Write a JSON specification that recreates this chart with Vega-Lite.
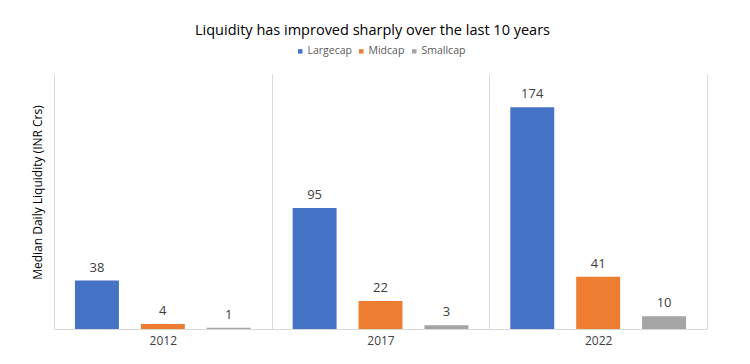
{
  "$schema": "https://vega.github.io/schema/vega-lite/v6.json",
  "width": 653,
  "height": 255,
  "autosize": {"type": "none"},
  "padding": {"left": 54, "top": 74, "right": 43, "bottom": 35},
  "background": "white",
  "title": {
    "text": "Liquidity has improved sharply over the last 10 years",
    "font": "Open Sans",
    "fontSize": 14.5,
    "fontWeight": "normal",
    "color": "#000000",
    "anchor": "middle",
    "dx": -8,
    "offset": 8
  },
  "data": {
    "values": [
      {"year": "2012", "cap": "Largecap", "value": 38},
      {"year": "2012", "cap": "Midcap", "value": 4},
      {"year": "2012", "cap": "Smallcap", "value": 1},
      {"year": "2017", "cap": "Largecap", "value": 95},
      {"year": "2017", "cap": "Midcap", "value": 22},
      {"year": "2017", "cap": "Smallcap", "value": 3},
      {"year": "2022", "cap": "Largecap", "value": 174},
      {"year": "2022", "cap": "Midcap", "value": 41},
      {"year": "2022", "cap": "Smallcap", "value": 10}
    ]
  },
  "encoding": {
    "x": {
      "field": "year",
      "type": "nominal",
      "scale": {"paddingInner": 0, "paddingOuter": 0},
      "axis": {
        "title": null,
        "labelAngle": 0,
        "labelFont": "Open Sans",
        "labelFontSize": 12,
        "labelColor": "#404040",
        "labelPadding": 6,
        "ticks": false,
        "grid": true,
        "gridColor": "#D9D9D9",
        "domainColor": "#D9D9D9",
        "tickBand": "extent"
      }
    },
    "xOffset": {
      "field": "cap",
      "type": "nominal",
      "scale": {"paddingInner": 0.333, "paddingOuter": 0.318}
    },
    "y": {
      "field": "value",
      "type": "quantitative",
      "scale": {"domain": [0, 200]},
      "axis": {
        "title": "Median Daily Liquidity (INR Crs)",
        "titleFont": "Open Sans",
        "titleFontSize": 12,
        "titleFontWeight": "normal",
        "titleColor": "#000000",
        "titlePadding": 10,
        "titleY": 118,
        "labels": false,
        "ticks": false,
        "domain": false,
        "grid": false
      }
    }
  },
  "layer": [
    {
      "mark": {"type": "bar"},
      "encoding": {
        "color": {
          "field": "cap",
          "type": "nominal",
          "scale": {"domain": ["Largecap", "Midcap", "Smallcap"], "range": ["#4472C4", "#ED7D31", "#A5A5A5"]},
          "legend": {
            "title": null,
            "orient": "none",
            "direction": "horizontal",
            "legendX": 241,
            "legendY": -28,
            "symbolType": "square",
            "symbolSize": 20,
            "symbolStrokeWidth": 0,
            "labelFont": "Open Sans",
            "labelFontSize": 10.5,
            "labelColor": "#595959",
            "labelOffset": 2,
            "columnPadding": 4
          }
        }
      }
    },
    {
      "mark": {"type": "text", "baseline": "bottom", "dy": -6, "font": "Open Sans", "fontSize": 13, "color": "#404040"},
      "encoding": {"text": {"field": "value", "type": "quantitative"}}
    }
  ],
  "config": {"view": {"stroke": null}}
}
